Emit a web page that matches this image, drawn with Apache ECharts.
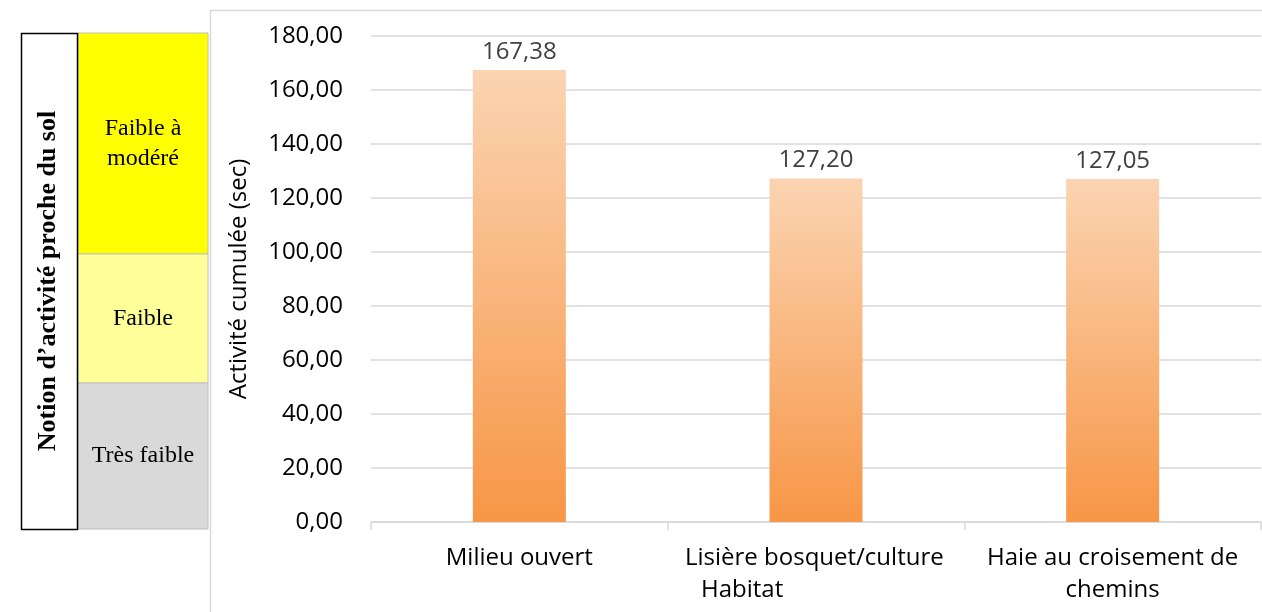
<!DOCTYPE html>
<html>
<head>
<meta charset="utf-8">
<script src="https://cdn.jsdelivr.net/npm/echarts@6/dist/echarts.min.js"></script>
<style>
  html, body { margin: 0; padding: 0; background: #fff; }
  #chart { width: 1262px; height: 612px; }
</style>
</head>
<body>
<div id="chart"></div>
<script>
// data
var categories = ['Milieu ouvert', 'Lisière bosquet/culture Habitat', 'Haie au croisement de chemins']
var values = [167.38, 127.20, 127.05]
var yTicks = [0, 20, 40, 60, 80, 100, 120, 140, 160, 180]
var bandLabels = ['Faible à\nmodéré', 'Faible', 'Très faible']
var sideTitle = 'Notion d\u2019activité proche du sol'

var fmt = function (v) { return Number(v).toFixed(2).replace('.', ',') }

var chart = echarts.init(document.getElementById('chart'))

var serif = '"Liberation Serif", "DejaVu Serif", serif'
var sans = '"Open Sans", "Noto Sans", sans-serif'

var option = {
  animation: false,
  backgroundColor: '#fff',
  textStyle: { fontFamily: sans },
  grid: {
    left: 371,
    right: 1,
    top: 36,
    bottom: 90
  },
  xAxis: {
    type: 'category',
    data: categories,
    axisLine: { lineStyle: { color: '#d9d9d9', width: 1.5 } },
    axisTick: { show: true, length: 8, lineStyle: { color: '#d9d9d9', width: 1.5 } },
    axisLabel: {
      margin: 20,
      fontSize: 24,
      color: '#000',
      interval: 0,
      lineHeight: 32,
      formatter: function (v, i) {
        if (i === 1) return '{a|Lisière bosquet/culture}\n{b|Habitat}'
        if (i === 2) return 'Haie au croisement de\nchemins'
        return v
      },
      rich: {
        a: { fontSize: 24, color: '#000', width: 262, align: 'left', lineHeight: 32 },
        b: { fontSize: 24, color: '#000', width: 246, align: 'left', padding: [0, 0, 0, 16], lineHeight: 32 }
      }
    }
  },
  yAxis: {
    type: 'value',
    min: yTicks[0],
    max: yTicks[yTicks.length - 1],
    interval: yTicks[1] - yTicks[0],
    name: 'Activité cumulée (sec)',
    nameLocation: 'middle',
    nameGap: 120,
    nameTextStyle: { fontSize: 24, color: '#000' },
    axisLine: { show: false },
    axisTick: { show: false },
    axisLabel: { fontSize: 24, color: '#000', margin: 28, formatter: fmt },
    splitLine: { lineStyle: { color: '#d9d9d9', width: 1.5 } }
  },
  series: [{
    type: 'bar',
    data: values,
    barWidth: 93,
    itemStyle: {
      color: new echarts.graphic.LinearGradient(0, 0, 0, 1, [
        { offset: 0, color: '#fbd4b2' },
        { offset: 1, color: '#f79646' }
      ])
    },
    label: {
      show: true,
      position: 'top',
      distance: 6,
      fontSize: 24,
      color: '#404040',
      formatter: function (p) { return fmt(p.value) }
    }
  }],
  graphic: [
    // chart frame
    { type: 'rect', z: -10, silent: true,
      shape: { x: 210.5, y: 10.5, width: 1070, height: 620 },
      style: { fill: 'none', stroke: '#d9d9d9', lineWidth: 1.5 } },
    // side table
    { type: 'rect', shape: { x: 78, y: 33, width: 130, height: 221 },
      style: { fill: '#ffff00', stroke: '#bfbfbf', lineWidth: 1 } },
    { type: 'rect', shape: { x: 78, y: 254, width: 130, height: 129 },
      style: { fill: '#ffff99', stroke: '#bfbfbf', lineWidth: 1 } },
    { type: 'rect', shape: { x: 78, y: 383, width: 130, height: 146 },
      style: { fill: '#d9d9d9', stroke: '#bfbfbf', lineWidth: 1 } },
    { type: 'rect', shape: { x: 21.5, y: 33.5, width: 56, height: 496 },
      style: { fill: '#fff', stroke: '#000', lineWidth: 1.5 } },
    { type: 'text', x: 48, y: 281, rotation: Math.PI / 2,
      style: { text: sideTitle, font: 'bold 26px ' + serif, fill: '#000', align: 'center', verticalAlign: 'middle' } },
    { type: 'text', x: 143, y: 144,
      style: { text: bandLabels[0], font: '24px ' + serif, fill: '#000', align: 'center', verticalAlign: 'middle', lineHeight: 30 } },
    { type: 'text', x: 143, y: 319,
      style: { text: bandLabels[1], font: '24px ' + serif, fill: '#000', align: 'center', verticalAlign: 'middle' } },
    { type: 'text', x: 143, y: 456,
      style: { text: bandLabels[2], font: '24px ' + serif, fill: '#000', align: 'center', verticalAlign: 'middle' } }
  ]
}

chart.setOption(option)
</script>
</body>
</html>
